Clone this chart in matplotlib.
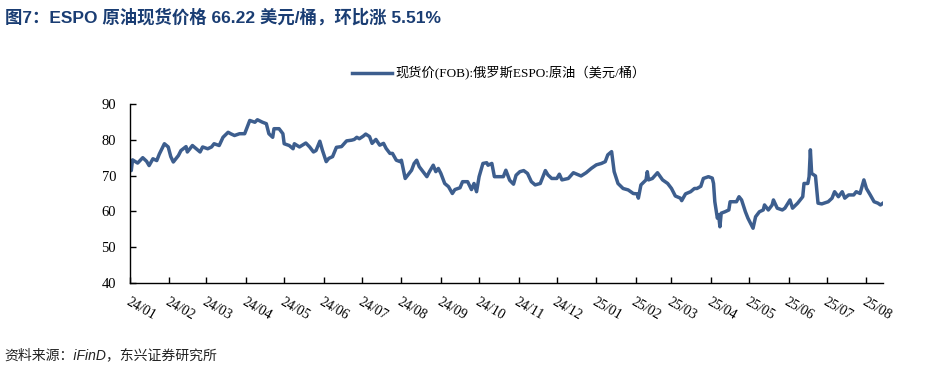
import matplotlib
matplotlib.use("Agg")
import matplotlib.pyplot as plt
import pandas as pd

# 俄罗斯ESPO原油现货价(FOB)，美元/桶
dates = [
    "2024-01-01", "2024-01-02", "2024-01-03", "2024-01-07", "2024-01-11", "2024-01-14", "2024-01-16",
    "2024-01-19", "2024-01-22", "2024-01-24", "2024-01-28", "2024-01-31", "2024-02-02", "2024-02-04",
    "2024-02-08", "2024-02-10", "2024-02-14", "2024-02-15", "2024-02-17", "2024-02-19", "2024-02-22",
    "2024-02-25", "2024-02-27", "2024-03-02", "2024-03-05", "2024-03-07", "2024-03-11", "2024-03-14",
    "2024-03-18", "2024-03-20", "2024-03-23", "2024-03-27", "2024-03-31", "2024-04-04", "2024-04-08",
    "2024-04-10", "2024-04-14", "2024-04-17", "2024-04-19", "2024-04-22", "2024-04-23", "2024-04-27",
    "2024-04-30", "2024-05-01", "2024-05-05", "2024-05-08", "2024-05-09", "2024-05-13", "2024-05-18",
    "2024-05-21", "2024-05-24", "2024-05-26", "2024-05-29", "2024-05-31", "2024-06-03", "2024-06-05",
    "2024-06-08", "2024-06-11", "2024-06-15", "2024-06-19", "2024-06-23", "2024-06-25", "2024-06-27",
    "2024-06-29", "2024-07-02", "2024-07-04", "2024-07-07", "2024-07-09", "2024-07-12", "2024-07-15",
    "2024-07-18", "2024-07-20", "2024-07-23", "2024-07-25", "2024-07-28", "2024-07-31", "2024-08-01",
    "2024-08-04", "2024-08-06", "2024-08-09", "2024-08-11", "2024-08-13", "2024-08-15", "2024-08-18",
    "2024-08-21", "2024-08-23", "2024-08-26", "2024-08-28", "2024-08-30", "2024-09-01", "2024-09-04",
    "2024-09-07", "2024-09-10", "2024-09-12", "2024-09-16", "2024-09-18", "2024-09-22", "2024-09-25",
    "2024-09-27", "2024-09-29", "2024-10-01", "2024-10-04", "2024-10-07", "2024-10-08", "2024-10-11",
    "2024-10-13", "2024-10-17", "2024-10-20", "2024-10-22", "2024-10-25", "2024-10-28", "2024-10-30",
    "2024-11-02", "2024-11-05", "2024-11-08", "2024-11-11", "2024-11-14", "2024-11-18", "2024-11-22",
    "2024-11-24", "2024-11-27", "2024-12-01", "2024-12-03", "2024-12-05", "2024-12-10", "2024-12-14",
    "2024-12-18", "2024-12-20", "2024-12-24", "2024-12-28", "2025-01-01", "2025-01-05", "2025-01-08",
    "2025-01-10", "2025-01-13", "2025-01-15", "2025-01-18", "2025-01-22", "2025-01-26", "2025-01-30",
    "2025-02-02", "2025-02-03", "2025-02-05", "2025-02-09", "2025-02-10", "2025-02-11", "2025-02-14",
    "2025-02-18", "2025-02-22", "2025-02-26", "2025-03-01", "2025-03-04", "2025-03-08", "2025-03-09",
    "2025-03-12", "2025-03-16", "2025-03-19", "2025-03-21", "2025-03-24", "2025-03-26", "2025-03-30",
    "2025-04-02", "2025-04-03", "2025-04-04", "2025-04-06", "2025-04-07", "2025-04-08", "2025-04-09",
    "2025-04-12", "2025-04-15", "2025-04-16", "2025-04-21", "2025-04-23", "2025-04-25", "2025-04-28",
    "2025-04-30", "2025-05-02", "2025-05-04", "2025-05-06", "2025-05-09", "2025-05-12", "2025-05-13",
    "2025-05-16", "2025-05-19", "2025-05-20", "2025-05-23", "2025-05-27", "2025-05-29", "2025-06-02",
    "2025-06-04", "2025-06-08", "2025-06-12", "2025-06-13", "2025-06-16", "2025-06-17", "2025-06-18",
    "2025-06-19", "2025-06-22", "2025-06-24", "2025-06-27", "2025-07-02", "2025-07-05", "2025-07-07",
    "2025-07-10", "2025-07-13", "2025-07-15", "2025-07-18", "2025-07-22", "2025-07-24", "2025-07-27",
    "2025-07-30", "2025-08-01", "2025-08-04", "2025-08-07", "2025-08-10", "2025-08-12", "2025-08-14",
]
prices = [
    73.8, 71.4, 74.4, 73.5, 75.0, 74.0, 72.8,
    74.7, 74.2, 76.0, 78.9, 78.0, 75.3, 73.8,
    75.6, 77.0, 78.1, 76.6, 77.5, 78.4, 77.5,
    76.6, 78.0, 77.5, 78.0, 78.9, 78.4, 80.7,
    82.1, 81.7, 81.2, 81.7, 81.7, 85.4, 84.9,
    85.6, 84.9, 84.5, 81.7, 80.7, 83.1, 83.1,
    81.7, 78.9, 78.4, 77.5, 78.9, 78.0, 79.1,
    78.0, 76.6, 77.0, 79.6, 77.1, 73.9, 74.8,
    75.3, 77.9, 78.1, 79.7, 79.9, 80.1, 80.7,
    80.3, 81.0, 81.6, 80.9, 79.0, 80.1, 78.5,
    79.0, 77.6, 76.2, 76.2, 74.3, 73.9, 74.3,
    69.2, 70.1, 71.5, 73.4, 74.3, 72.5, 71.1,
    69.7, 71.1, 72.9, 71.1, 72.0, 70.6, 67.8,
    66.9, 65.0, 66.1, 66.6, 68.3, 68.3, 66.1,
    67.8, 65.5, 69.7, 73.4, 73.6, 72.9, 73.4,
    69.7, 69.7, 69.7, 71.5, 68.7, 67.6, 70.1,
    71.1, 71.4, 70.6, 68.3, 67.4, 67.8, 71.4,
    70.2, 69.2, 69.2, 70.4, 68.8, 69.2, 70.8,
    70.2, 69.9, 70.8, 72.0, 73.0, 73.4, 73.9,
    75.8, 76.7, 71.1, 67.8, 66.4, 66.0, 65.0,
    64.9, 63.7, 67.4, 68.8, 71.1, 68.8, 69.2,
    70.8, 68.8, 67.8, 66.4, 64.3, 63.7, 63.0,
    64.9, 65.5, 66.4, 66.4, 67.0, 69.2, 69.7,
    69.3, 67.8, 62.7, 58.1, 59.0, 55.7, 59.5,
    59.9, 60.4, 62.7, 62.7, 64.1, 63.2, 59.9,
    58.1, 56.7, 55.3, 58.5, 59.9, 60.4, 61.8,
    60.4, 61.8, 63.2, 60.9, 60.4, 60.9, 63.2,
    60.9, 62.3, 64.1, 67.8, 67.8, 69.7, 77.2,
    70.6, 69.9, 62.3, 62.1, 62.7, 63.7, 65.5,
    64.1, 65.5, 63.7, 64.6, 64.6, 65.5, 65.0,
    68.8, 66.4, 64.6, 62.7, 62.3, 61.8, 62.3,
]
month_ticks = pd.date_range("2024-01-01", "2025-08-01", freq="MS")
tick_labels = [d.strftime("%y/%m") for d in month_ticks]

title = "图7：ESPO 原油现货价格 66.22 美元/桶，环比涨 5.51%"
legend_label = "现货价(FOB):俄罗斯ESPO:原油（美元/桶）"
source = "资料来源：iFinD，东兴证券研究所"

line_color = "#3D5E8E"
serif = ["Liberation Serif", "Noto Sans CJK SC"]

x = pd.to_datetime(dates)

fig = plt.figure(figsize=(9.27, 3.68), dpi=100)
ax = fig.add_axes([130 / 927, 1 - 283 / 368, (883 - 130) / 927, (283 - 104) / 368])

ax.plot(x, prices, color=line_color, linewidth=2.5, label=legend_label)

ax.set_ylim(40, 90)
ax.set_yticks(range(40, 91, 10))
ax.set_xlim(pd.Timestamp("2024-01-01"), x[-1])
ax.set_xticks(month_ticks)
ax.set_xticklabels(tick_labels, rotation=-30, ha="left", va="top",
                   rotation_mode="anchor", family="Liberation Serif", fontsize=10)
for lab in ax.get_yticklabels():
    lab.set_family("Liberation Serif")
    lab.set_fontsize(10.5)

ax.spines["top"].set_visible(False)
ax.spines["right"].set_visible(False)
ax.spines["left"].set_linewidth(1.0)
ax.spines["bottom"].set_linewidth(1.0)
ax.tick_params(axis="both", direction="in", length=4, width=1, color="black")
ax.tick_params(axis="x", pad=9)
ax.tick_params(axis="y", pad=10)

leg = ax.legend(loc="center", bbox_to_anchor=(0.49, 1.17), frameon=False,
                handlelength=3.0, handletextpad=0.3,
                prop={"family": serif, "size": 9.5})

fig.text(0.005, 0.978, title, ha="left", va="top", fontsize=12.5, fontweight="bold",
         color="#1A3D73", family=["Liberation Sans", "Noto Sans CJK SC"])
fig.text(0.005, 0.035, source, ha="left", va="center", fontsize=10, style="italic",
         color="#222222", family=["Liberation Sans", "Noto Sans CJK SC"])

fig.savefig("out.png", dpi=100)
